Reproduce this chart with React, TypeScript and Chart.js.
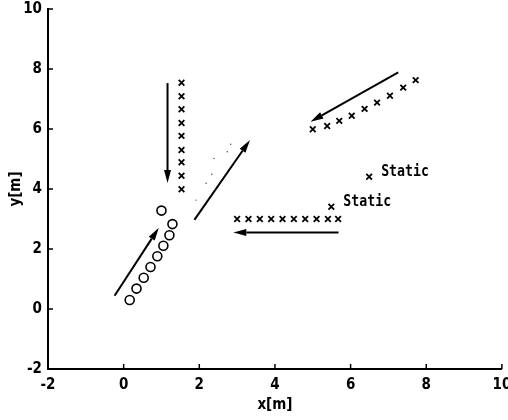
import React, { useEffect, useRef } from "react";
import { Chart, registerables } from "chart.js";

Chart.register(...registerables);

// Tick values
const xTicks = [-2, 0, 2, 4, 6, 8, 10];
const yTicks = [-2, 0, 2, 4, 6, 8, 10];

// Circles (moving up-right)
const circleX = [0.16, 0.34, 0.53, 0.71, 0.89, 1.05, 1.21, 1.29, 1.0];
const circleY = [0.3, 0.68, 1.04, 1.4, 1.76, 2.11, 2.46, 2.83, 3.28];

// Vertical column of crosses
const vertX = [1.53, 1.53, 1.53, 1.53, 1.53, 1.53, 1.53, 1.53, 1.53];
const vertY = [7.54, 7.09, 6.66, 6.2, 5.77, 5.3, 4.89, 4.44, 3.99];

// Horizontal row of crosses
const horzX = [3.0, 3.3, 3.6, 3.9, 4.2, 4.5, 4.8, 5.1, 5.4, 5.67];
const horzY = [3.0, 3.0, 3.0, 3.0, 3.0, 3.0, 3.0, 3.0, 3.0, 3.0];

// Diagonal crosses (top right)
const diagX = [5.0, 5.38, 5.7, 6.03, 6.37, 6.7, 7.04, 7.39, 7.72];
const diagY = [5.99, 6.1, 6.27, 6.44, 6.67, 6.88, 7.11, 7.38, 7.63];

// Static points
const staticX = [6.49, 5.49];
const staticY = [4.41, 3.41];
const staticLabels = ["Static", "Static"];

// Faint dotted trail
const dotX = [2.83, 2.74, 2.39, 2.33, 2.18, 1.91];
const dotY = [5.49, 5.24, 5.02, 4.49, 4.19, 3.63];

// Arrows (from -> to)
const arrowFromX = [1.16, -0.24, 1.87, 5.68, 7.26];
const arrowFromY = [7.53, 0.44, 2.97, 2.55, 7.89];
const arrowToX = [1.16, 0.93, 3.34, 2.9, 4.94];
const arrowToY = [4.2, 2.71, 5.63, 2.55, 6.24];

const zip = (xs: number[], ys: number[]) => xs.map((x, i) => ({ x, y: ys[i] }));

const overlayPlugin = {
  id: "overlay",
  afterDraw(chart: any) {
    const ctx = chart.ctx;
    const xs = chart.scales.x;
    const ys = chart.scales.y;
    const area = chart.chartArea;
    ctx.save();
    // inward ticks
    ctx.strokeStyle = "#000";
    ctx.lineWidth = 1.5;
    xTicks.forEach((v) => {
      const px = xs.getPixelForValue(v);
      ctx.beginPath();
      ctx.moveTo(px, area.bottom);
      ctx.lineTo(px, area.bottom - 5);
      ctx.stroke();
    });
    yTicks.forEach((v) => {
      const py = ys.getPixelForValue(v);
      ctx.beginPath();
      ctx.moveTo(area.left, py);
      ctx.lineTo(area.left + 5, py);
      ctx.stroke();
    });
    // arrows
    ctx.fillStyle = "#000";
    ctx.lineWidth = 2;
    for (let i = 0; i < arrowFromX.length; i++) {
      const x1 = xs.getPixelForValue(arrowFromX[i]);
      const y1 = ys.getPixelForValue(arrowFromY[i]);
      const x2 = xs.getPixelForValue(arrowToX[i]);
      const y2 = ys.getPixelForValue(arrowToY[i]);
      const ang = Math.atan2(y2 - y1, x2 - x1);
      const hl = 13;
      const hw = 3.5;
      const bx = x2 - hl * Math.cos(ang);
      const by = y2 - hl * Math.sin(ang);
      ctx.beginPath();
      ctx.moveTo(x1, y1);
      ctx.lineTo(bx, by);
      ctx.stroke();
      ctx.beginPath();
      ctx.moveTo(x2, y2);
      ctx.lineTo(bx + hw * Math.sin(ang), by - hw * Math.cos(ang));
      ctx.lineTo(bx - hw * Math.sin(ang), by + hw * Math.cos(ang));
      ctx.closePath();
      ctx.fill();
    }
    // static labels (tall gothic look)
    ctx.font = "bold 13px 'DejaVu Sans Mono', monospace";
    ctx.textBaseline = "alphabetic";
    ctx.textAlign = "left";
    for (let i = 0; i < staticX.length; i++) {
      const px = xs.getPixelForValue(staticX[i]);
      const py = ys.getPixelForValue(staticY[i]);
      ctx.save();
      ctx.translate(px + 12, py - 1);
      ctx.scale(1.02, 1.2);
      ctx.fillText(staticLabels[i], 0, 0);
      ctx.restore();
    }
    ctx.restore();
  },
};

export default function App() {
  const ref = useRef<HTMLCanvasElement | null>(null);
  useEffect(() => {
    if (!ref.current) return;
    const tickFont = {
      family: "'Liberation Sans Narrow', 'DejaVu Sans Condensed', 'Liberation Sans', sans-serif",
      size: 15,
      weight: "bold" as const,
    };
    const crossDs = (data: any[]) => ({
      data,
      pointStyle: "crossRot",
      pointRadius: 4,
      borderColor: "#000",
      backgroundColor: "#000",
      pointBorderWidth: 1.8,
      showLine: false,
    });
    const chart = new Chart(ref.current, {
      type: "scatter",
      data: {
        datasets: [
          {
            data: zip(circleX, circleY),
            pointStyle: "circle",
            pointRadius: 4.5,
            pointBorderWidth: 1.6,
            borderColor: "#000",
            backgroundColor: "#fff",
            showLine: false,
          } as any,
          crossDs(zip(vertX, vertY)) as any,
          crossDs(zip(horzX, horzY)) as any,
          crossDs(zip(diagX, diagY)) as any,
          crossDs(zip(staticX, staticY)) as any,
          {
            data: zip(dotX, dotY),
            pointStyle: "circle",
            pointRadius: 0.7,
            pointBorderWidth: 0,
            borderColor: "#444",
            backgroundColor: "#444",
            showLine: false,
          } as any,
        ],
      },
      options: {
        animation: false,
        responsive: false,
        layout: { padding: { top: 9, right: 4, left: 0, bottom: 0 } },
        plugins: { legend: { display: false }, tooltip: { enabled: false } },
        scales: {
          x: {
            type: "linear",
            min: -2,
            max: 10,
            afterBuildTicks: (s: any) => {
              s.ticks = xTicks.map((v) => ({ value: v }));
            },
            ticks: { font: tickFont, color: "#000", padding: 7, maxRotation: 0 },
            grid: { drawOnChartArea: false, drawTicks: false },
            border: { color: "#000", width: 2 },
            title: {
              display: true,
              text: "x[m]",
              color: "#000",
              font: tickFont,
              padding: { top: 0, bottom: 6 },
            },
            afterFit: (s: any) => {
              s.height = 51;
              s.paddingLeft = 0;
              s.paddingRight = 0;
            },
          },
          y: {
            type: "linear",
            min: -2,
            max: 10,
            afterBuildTicks: (s: any) => {
              s.ticks = yTicks.map((v) => ({ value: v }));
            },
            ticks: { font: tickFont, color: "#000", padding: 6 },
            grid: { drawOnChartArea: false, drawTicks: false },
            border: { color: "#000", width: 2 },
            title: {
              display: true,
              text: "y[m]",
              color: "#000",
              font: tickFont,
              padding: { top: 7, bottom: 0 },
            },
            afterFit: (s: any) => {
              s.width = 48;
              s.paddingTop = 0;
              s.paddingBottom = 0;
            },
          },
        },
      } as any,
      plugins: [overlayPlugin],
    });
    return () => chart.destroy();
  }, []);
  return (
    <div style={{ position: "fixed", left: 0, top: 0, width: 508, height: 420, background: "#fff" }}>
      <canvas ref={ref} width={508} height={420} style={{ width: 508, height: 420 }} />
    </div>
  );
}
